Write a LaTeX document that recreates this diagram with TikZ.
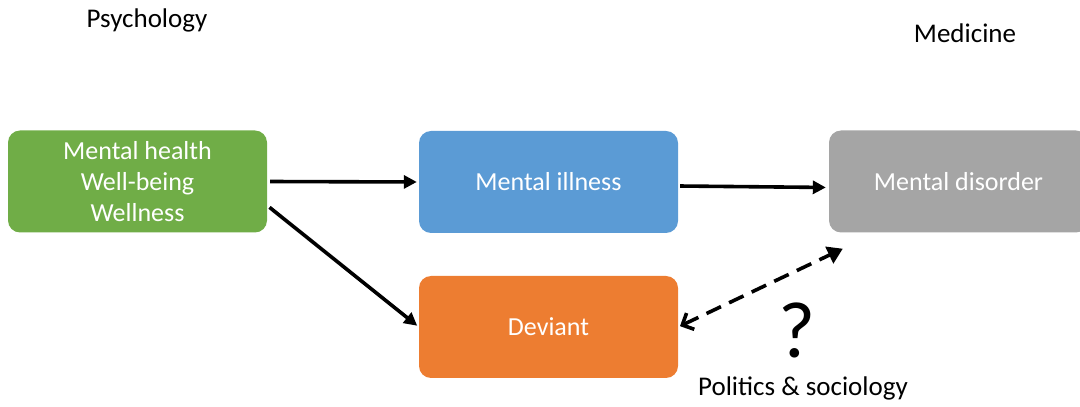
\documentclass[tikz,border=0pt]{standalone}
\usepackage{fontspec}
\setmainfont{Carlito}
\usetikzlibrary{arrows.meta}
\definecolor{boxgreen}{HTML}{70AD47}
\definecolor{boxblue}{HTML}{5B9BD5}
\definecolor{boxgray}{HTML}{A5A5A5}
\definecolor{boxorange}{HTML}{ED7D31}
\tikzset{
  conceptbox/.style={rounded corners=12pt, inner sep=0pt, minimum width=259pt,
    minimum height=102pt, text=white, align=center,
    font=\fontsize{26}{31}\selectfont},
  fieldlabel/.style={inner sep=0pt, font=\fontsize{27}{32}\selectfont},
  link/.style={line width=3.6pt, -{Triangle[length=13pt,width=13pt]}},
  contested/.style={line width=3.6pt, dash pattern=on 16pt off 9pt,
    {Straight Barb[length=9pt,width=18pt]}-{Triangle[length=15pt,width=18pt]}}
}
\begin{document}
\begin{tikzpicture}[x=1pt,y=1pt]
  \useasboundingbox (0,0) rectangle (1080,407);
  \clip (0,0) rectangle (1080,407);

  % discipline labels
  \node[fieldlabel] (psy) at (147,387) {Psychology};
  \node[fieldlabel] (med) at (965,374) {Medicine};
  \node[fieldlabel] (pol) at (803,19) {Politics \& sociology};
  \node[inner sep=0pt, font=\fontsize{80}{90}\selectfont] (q) at (797,77) {?};

  % concept boxes
  \node[conceptbox, fill=boxgreen] (health) at (137.5,225.5)
    {Mental health\\Well-being\\Wellness};
  \node[conceptbox, fill=boxblue] (illness) at (548.5,225) {Mental illness};
  \node[conceptbox, fill=boxgray] (disorder) at (958.5,225.5) {Mental disorder};
  \node[conceptbox, fill=boxorange] (deviant) at (548.5,80) {Deviant};

  % connectors
  \coordinate (dtip) at ([shift={(14pt,-16pt)}]disorder.south west);
  \draw[link, shorten <=3pt, shorten >=2pt] (health.east) -- (illness.west);
  \draw[link, shorten <=3pt, shorten >=2pt]
    ([yshift=-24pt]health.east) -- (deviant.west);
  \draw[link, shorten <=2pt, shorten >=3pt]
    ([yshift=-4pt]illness.east) -- ([yshift=-6pt]disorder.west);
  \draw[contested, shorten <=2pt] (deviant.east) -- (dtip);
\end{tikzpicture}
\end{document}
